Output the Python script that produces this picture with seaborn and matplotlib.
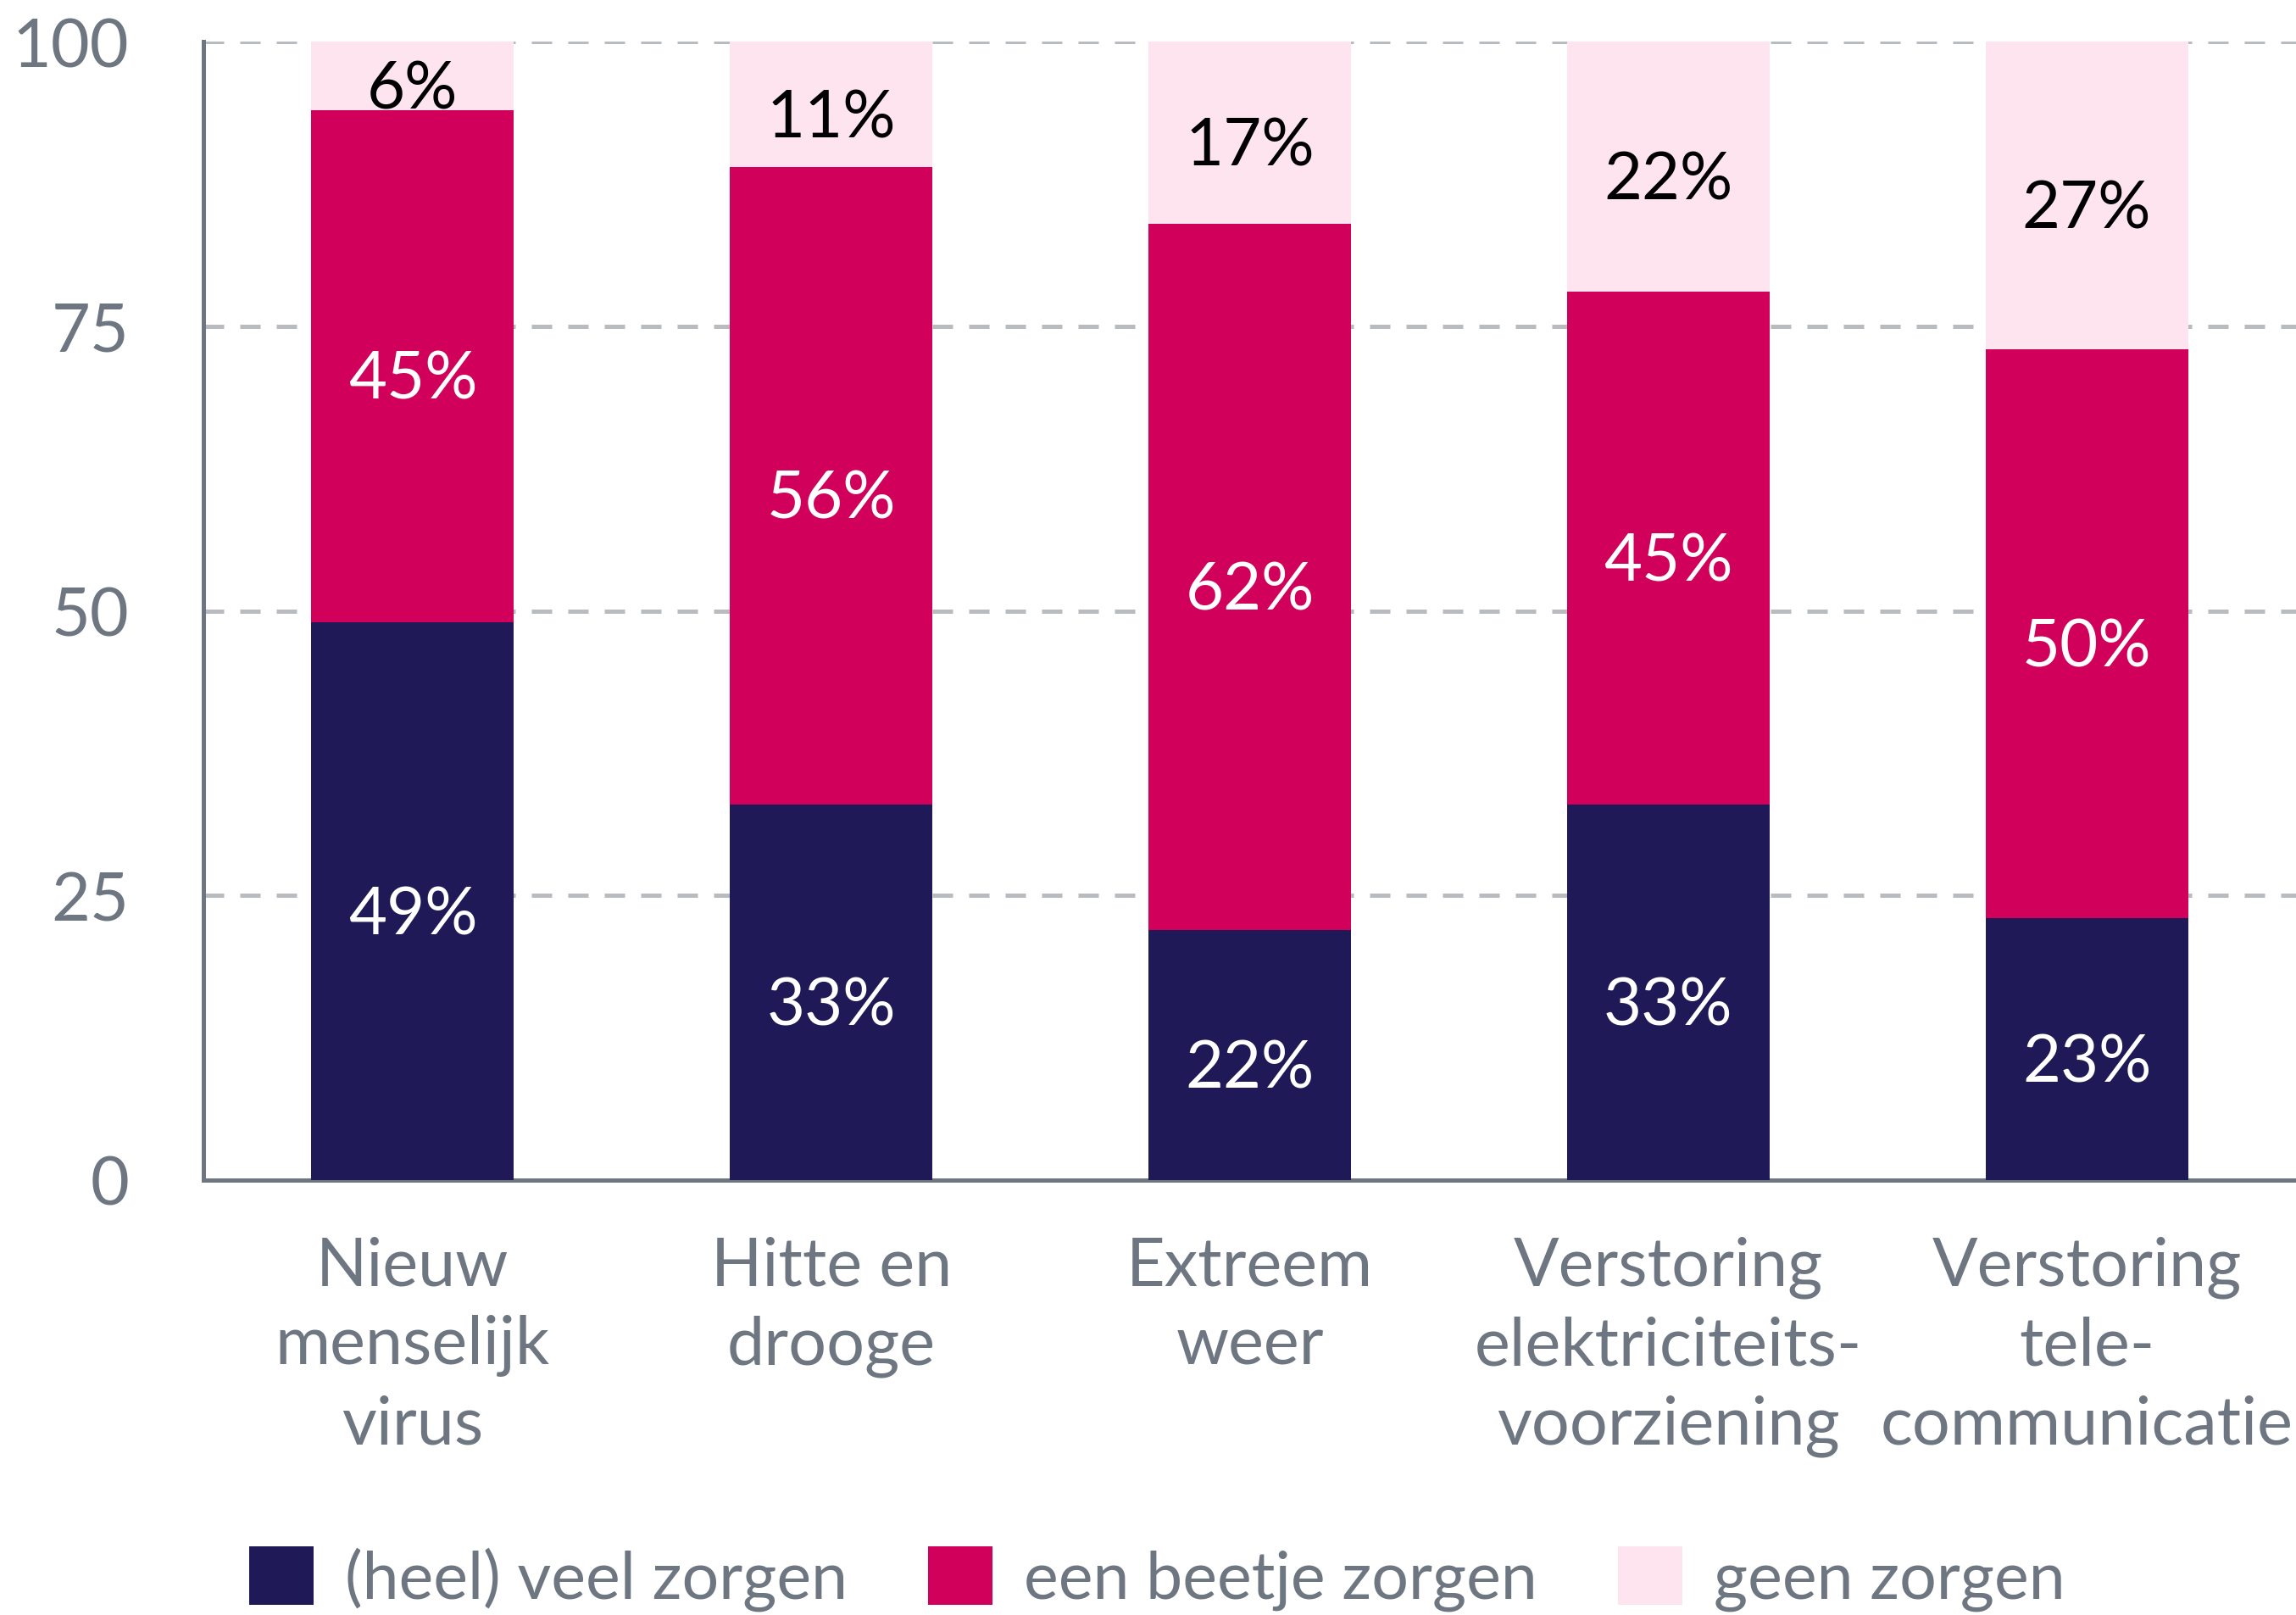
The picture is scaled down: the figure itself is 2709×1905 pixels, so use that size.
import matplotlib
matplotlib.use("Agg")
import matplotlib.pyplot as plt
import seaborn as sns
import numpy as np

categories = ["Nieuw\nmenselijk\nvirus", "Hitte en\ndrooge", "Extreem\nweer",
              "Verstoring\nelektriciteits-\nvoorziening", "Verstoring\ntele-\ncommunicatie"]
veel = [49, 33, 22, 33, 23]
beetje = [45, 56, 62, 45, 50]
geen = [6, 11, 17, 22, 27]
series_names = ["(heel) veel zorgen", "een beetje zorgen", "geen zorgen"]
yticks = [0, 25, 50, 75, 100]

colors = ["#1f1a57", "#d1005a", "#fde4ee"]
label_colors = ["white", "white", "black"]
gray = "#6e7681"

sns.set_theme(style="white")
plt.rcParams['font.family'] = ['Lato', 'DejaVu Sans']

fig = plt.figure(figsize=(27.09, 19.06), dpi=100)
ax = fig.add_axes([240 / 2709, 1 - 1393 / 1906, 1 - 240 / 2709, (1393 - 50) / 1906])

bottom = np.zeros(len(categories))
containers = []
for name, vals, col, lcol in zip(series_names, [veel, beetje, geen], colors, label_colors):
    sns.barplot(x=categories, y=vals, bottom=bottom, color=col, width=0.484,
                linewidth=0, saturation=1, ax=ax, label=name, zorder=3)
    cont = ax.containers[-1]
    containers.append(cont)
    anns = ax.bar_label(cont, labels=[f"{v}%" for v in vals], label_type="center",
                        color=lcol, fontsize=56)
    for a in anns:
        a.xyann = (0, -12)  # nudge labels down like the original
    bottom = bottom + np.array(vals)

ax.set_xlim(-0.5, 4.5)
ax.set_ylim(0, 100)
ax.set_yticks(yticks)
ax.yaxis.grid(True, color="#b8bbbf", linewidth=3.6, linestyle=(0, (4.8, 3.8)), zorder=0)
ax.set_axisbelow(True)

for s in ["top", "right"]:
    ax.spines[s].set_visible(False)
for s in ["left", "bottom"]:
    ax.spines[s].set_color(gray)
    ax.spines[s].set_linewidth(3.6)

ax.tick_params(axis="y", length=0, pad=63, labelsize=57, labelcolor=gray)
ax.tick_params(axis="x", length=0, pad=47, labelsize=57, labelcolor=gray)
for t in ax.get_xticklabels():
    t.set_linespacing(1.36)
ax.set_xlabel("")
ax.set_ylabel("")
if ax.get_legend() is not None:
    ax.get_legend().remove()

fig.legend(handles=[c.patches[0] for c in containers], labels=series_names,
           loc="upper left", bbox_to_anchor=(294 / 2709, 1 - 1825 / 1906),
           ncol=3, frameon=False, fontsize=55.5, labelcolor=gray,
           handlelength=0.99, handleheight=1.0, handletextpad=0.48,
           columnspacing=1.23, borderpad=0, borderaxespad=0)

fig.savefig("out.png", dpi=100)
